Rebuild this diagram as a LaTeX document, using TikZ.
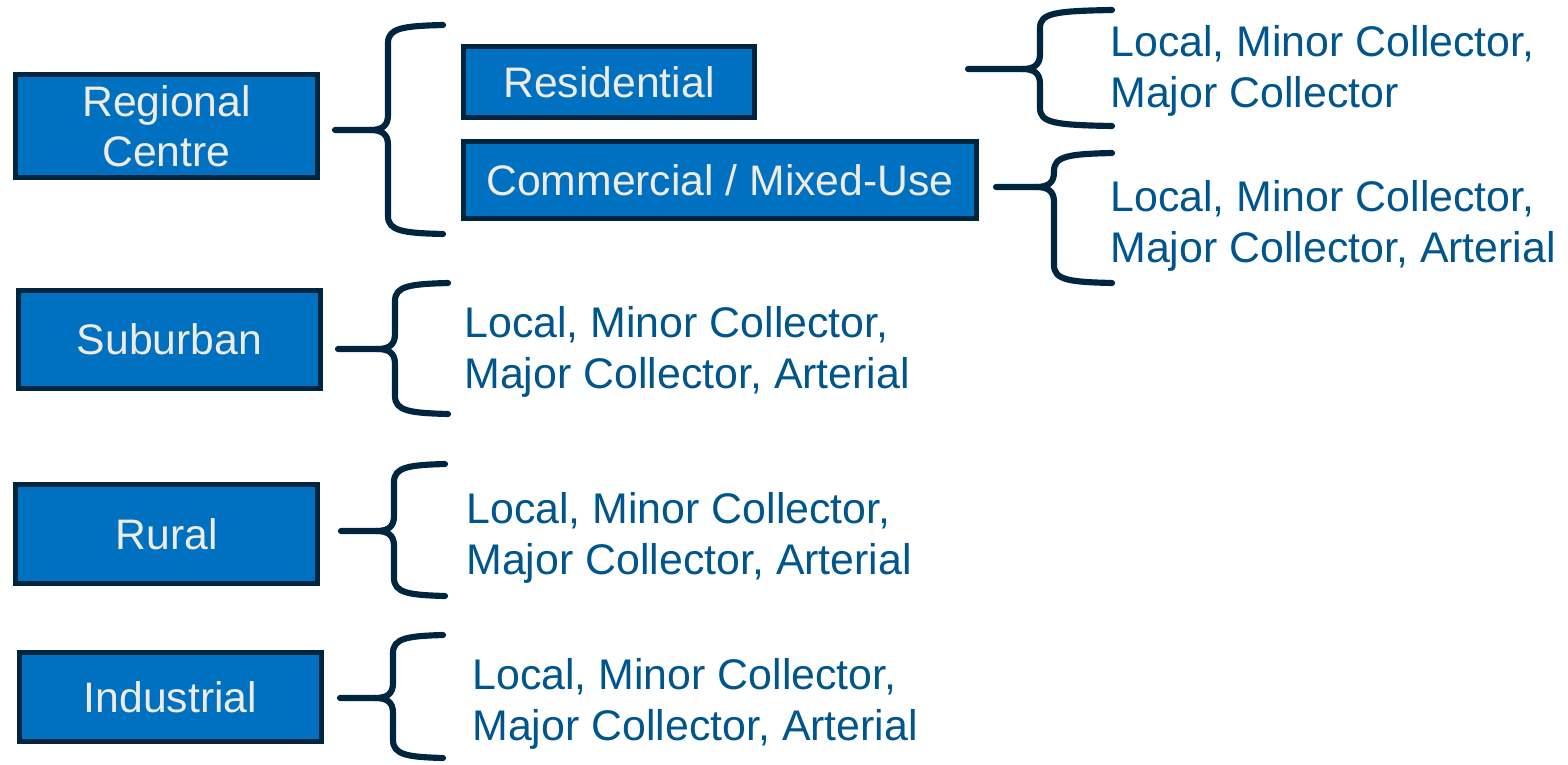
\documentclass[tikz,border=0pt]{standalone}
\usepackage{fontspec}
\setmainfont{Liberation Sans}
\definecolor{boxblue}{HTML}{0070C0}
\definecolor{navy}{HTML}{00263F}
\definecolor{roadblue}{HTML}{00558C}
\definecolor{cream}{HTML}{EEECE1}
\tikzset{
  area/.style={draw=navy, fill=boxblue, line width=2.7pt, text=cream,
    font=\fontsize{24.3}{28.5}\selectfont, align=center, inner sep=0pt},
  roads/.style={text=roadblue, font=\fontsize{24.4}{29}\selectfont,
    align=left, anchor=west, inner sep=0pt},
  brace/.style={draw=navy, line width=3.5pt, line cap=round, line join=round}
}
% left curly brace: tip x, mid y, spine x, top y, bottom y, end x
\newcommand{\curly}[6]{%
  \draw[brace] (#6,#4) .. controls (#3+15,#4+1) and (#3,#4+3) .. (#3,#4+18)
    -- (#3,#2-15) .. controls (#3,#2-4) and (#3-6,#2) .. (#3-18,#2) -- (#1,#2);
  \draw[brace] (#6,#5) .. controls (#3+15,#5-1) and (#3,#5-3) .. (#3,#5-18)
    -- (#3,#2+15) .. controls (#3,#2+4) and (#3-6,#2) .. (#3-18,#2);
}
\begin{document}
\begin{tikzpicture}[x=0.02cm, y=-0.02cm]
  \useasboundingbox (0,0) rectangle (1568,764);
  % area types
  \node[area, minimum width=6.04cm, minimum height=2.06cm] (reg) at (166.5,126) {Regional\\Centre};
  \node[area, minimum width=5.82cm, minimum height=1.42cm] (res) at (609,82) {Residential};
  \node[area, minimum width=10.26cm, minimum height=1.54cm] (com) at (720,180) {Commercial / Mixed-Use};
  \node[area, minimum width=6.04cm, minimum height=1.96cm] (sub) at (169.5,339.5) {Suburban};
  \node[area, minimum width=6.04cm, minimum height=1.98cm] (rur) at (166.5,534) {Rural};
  \node[area, minimum width=6.04cm, minimum height=1.78cm] (ind) at (170.5,697) {Industrial};
  % road classes
  \node[roads] (res-r) at (1110,71) {Local, Minor Collector,\\Major Collector};
  \node[roads] (com-r) at (1110,226) {Local, Minor Collector,\\Major Collector, Arterial};
  \node[roads] (sub-r) at (464,352) {Local, Minor Collector,\\Major Collector, Arterial};
  \node[roads] (rur-r) at (466,538) {Local, Minor Collector,\\Major Collector, Arterial};
  \node[roads] (ind-r) at (472,704) {Local, Minor Collector,\\Major Collector, Arterial};
  % braces
  \curly{335}{130}{388}{25}{234}{443}
  \curly{968}{69}{1040}{10}{126}{1112}
  \curly{996}{187}{1054}{153}{283}{1112}
  \curly{338}{349}{395}{283}{414}{448}
  \curly{341}{531}{394}{464}{596}{445}
  \curly{340}{698}{393}{635}{758}{443}
\end{tikzpicture}
\end{document}
